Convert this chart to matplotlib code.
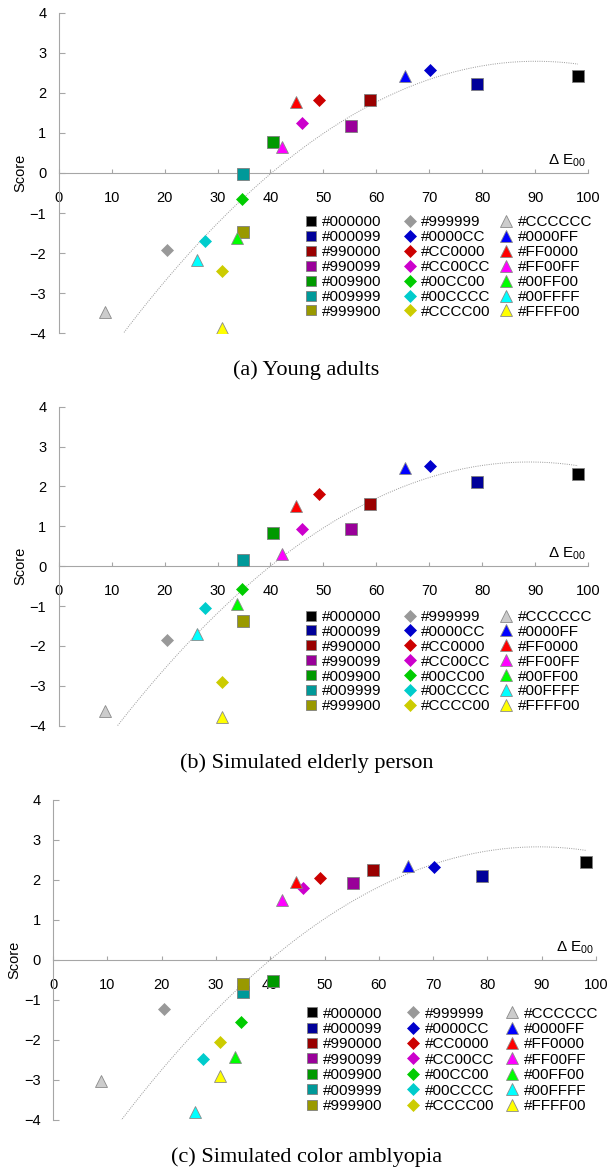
import matplotlib
matplotlib.use('Agg')
import matplotlib.pyplot as plt
import numpy as np

plt.rcParams['font.family'] = ['Liberation Sans', 'DejaVu Sans']
plt.rcParams['axes.unicode_minus'] = True

# colour codes of the 21 stimuli (squares, diamonds, triangles)
colors = ['#000000', '#000099', '#990000', '#990099', '#009900', '#009999', '#999900',
          '#999999', '#0000CC', '#CC0000', '#CC00CC', '#00CC00', '#00CCCC', '#CCCC00',
          '#CCCCCC', '#0000FF', '#FF0000', '#FF00FF', '#00FF00', '#00FFFF', '#FFFF00']
markers = ['s'] * 7 + ['D'] * 7 + ['^'] * 7

# colour difference to background (Delta E00)
delta_e = [98.1, 79.0, 58.9, 55.3, 40.5, 34.9, 34.9,
           20.4, 70.1, 49.2, 46.0, 34.7, 27.6, 30.8,
           8.8, 65.4, 44.8, 42.1, 33.6, 26.2, 30.8]

score_young = [2.43, 2.22, 1.83, 1.18, 0.76, -0.03, -1.47,
               -1.92, 2.57, 1.83, 1.24, -0.65, -1.71, -2.44,
               -3.48, 2.43, 1.76, 0.64, -1.62, -2.17, -3.87]
score_elderly = [2.30, 2.10, 1.57, 0.92, 0.82, 0.15, -1.37,
                 -1.84, 2.51, 1.82, 0.94, -0.58, -1.06, -2.90,
                 -3.63, 2.47, 1.51, 0.30, -0.95, -1.70, -3.79]
score_amblyopia = [2.46, 2.10, 2.25, 1.92, -0.52, -0.81, -0.60,
                   -1.22, 2.32, 2.04, 1.80, -1.56, -2.48, -2.04,
                   -3.03, 2.34, 1.94, 1.50, -2.42, -3.81, -2.89]

# quadratic trend lines (a, b, c of a*x^2 + b*x + c)
trend_young = [-0.001117, 0.2014, -6.291]
trend_elderly = [-0.001093, 0.1943, -6.022]
trend_amblyopia = [-0.001157, 0.2069, -6.423]

captions = ['(a) Young adults', '(b) Simulated elderly person', '(c) Simulated color amblyopia']

gray = '#a6a6a6'

fig = plt.figure(figsize=(6.13, 11.71), dpi=100)

panels = [
    # axes rect, scores, trend, legend top, legend row spacing, caption y
    ([0.0959, 0.7154, 0.8633, 0.2738], score_young, trend_young, 0.368, 0.06, 0.684),
    ([0.0959, 0.3803, 0.8633, 0.2724], score_elderly, trend_elderly, 0.363, 0.06, 0.3484),
    ([0.0865, 0.0436, 0.8858, 0.2733], score_amblyopia, trend_amblyopia, 0.354, 0.09, 0.0115),
]

for rect, scores, trend, leg_top, leg_sp, cap_y in panels:
    ax = fig.add_axes(rect)

    xs = np.linspace(min(delta_e), max(delta_e), 200)
    ax.plot(xs, np.polyval(trend, xs), ls=(0, (1, 1.3)), color='#9a9a9a', lw=0.7, zorder=1)

    handles = []
    for x, y, c, m in zip(delta_e, scores, colors, markers):
        if m == 's':
            h, = ax.plot([x], [y], marker='s', ms=8.2, mfc=c, mec='#7f7f7f', mew=0.6,
                         ls='none', label=c, zorder=3)
        elif m == 'D':
            h, = ax.plot([x], [y], marker='D', ms=6.0, mfc=c, mec=c, mew=0.5,
                         ls='none', label=c, zorder=3)
        else:
            h, = ax.plot([x], [y], marker='^', ms=8.4, mfc=c, mec='#8a8a8a', mew=0.6,
                         ls='none', label=c, zorder=3)
        handles.append(h)

    ax.set_xlim(0, 100)
    ax.set_ylim(-4, 4)
    ax.set_xticks(range(0, 101, 10))
    ax.set_yticks(range(-4, 5))
    for s in ['top', 'right']:
        ax.spines[s].set_visible(False)
    ax.spines['bottom'].set_position(('data', 0))
    for s in ['left', 'bottom']:
        ax.spines[s].set_color(gray)
        ax.spines[s].set_linewidth(0.8)
    ax.tick_params(axis='x', direction='in', length=3, pad=13, color=gray, labelsize=10.5)
    ax.tick_params(axis='y', direction='in', length=4, pad=9, color=gray, labelsize=10.5)
    ax.set_ylabel('Score', fontsize=10.5, labelpad=2)

    ax.text(99.6, 0.1, 'Δ E$_{\\mathregular{00}}$', ha='right', va='bottom', fontsize=11)

    # three legend columns: squares, diamonds, triangles
    for i, fx in enumerate([0.465, 0.652, 0.834]):
        leg = ax.legend(handles=handles[i * 7:(i + 1) * 7], loc='upper left',
                        bbox_to_anchor=(fx, leg_top), frameon=False, borderpad=0,
                        borderaxespad=0, handlelength=0.8, handletextpad=0.35,
                        labelspacing=leg_sp, fontsize=11, markerscale=0.95)
        if i < 2:
            ax.add_artist(leg)

for cap, p in zip(captions, panels):
    fig.text(0.5, p[-1], cap, ha='center', va='center', fontsize=16,
             family=['Liberation Serif', 'DejaVu Serif'])

fig.savefig('out.png', dpi=100)
